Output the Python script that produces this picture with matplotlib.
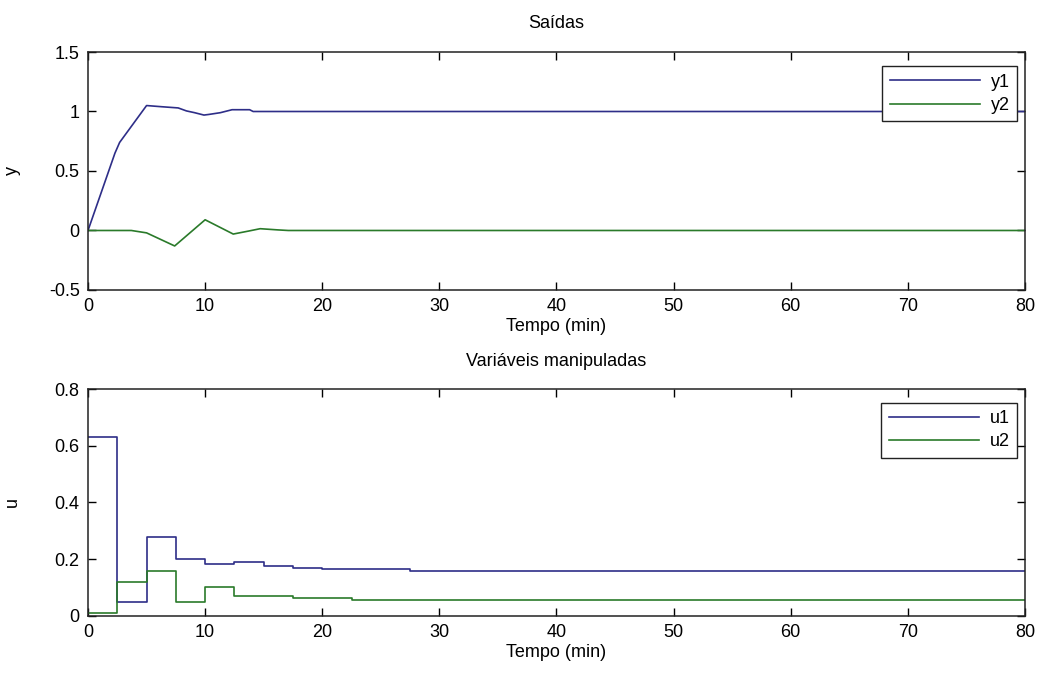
import numpy as np
import matplotlib.pyplot as plt

# saidas (amostras)
t_y1 = [0, 2.3, 2.7, 5.0, 6.3, 7.7, 8.4, 9.1, 9.9, 10.3, 11.3, 12.3, 13.8, 14.1, 80]
y1 = [0, 0.65, 0.74, 1.05, 1.04, 1.03, 1.005, 0.99, 0.97, 0.975, 0.99, 1.015, 1.015, 1.0, 1.0]

t_y2 = [0, 3.7, 5.0, 7.4, 10.0, 12.4, 13.7, 14.7, 16.2, 17.1, 80]
y2 = [0, 0, -0.02, -0.13, 0.09, -0.03, -0.005, 0.015, 0.005, 0, 0]

# variaveis manipuladas, periodo de amostragem 2.5 min
t_u = [0, 2.5, 5, 7.5, 10, 12.5, 15, 17.5, 20, 22.5, 25, 27.5, 80]
u1 = [0.63, 0.049, 0.277, 0.200, 0.184, 0.191, 0.177, 0.170, 0.164, 0.164, 0.164, 0.158, 0.158]
u2 = [0.011, 0.119, 0.158, 0.049, 0.102, 0.070, 0.070, 0.064, 0.064, 0.0555, 0.0555, 0.0555, 0.0555]

azul = '#2e2e88'
verde = '#2a7a2a'

plt.rcParams['font.family'] = ['Liberation Sans', 'DejaVu Sans']
plt.rcParams['font.size'] = 13

fig = plt.figure(figsize=(10.39, 6.78), dpi=100)

ax1 = fig.add_axes([0.0847, 0.5723, 0.9018, 0.351])
ax1.plot(t_y1, y1, color=azul, lw=1.2, label='y1')
ax1.plot(t_y2, y2, color=verde, lw=1.2, label='y2')
ax1.set_xlim(0, 80)
ax1.set_ylim(-0.5, 1.5)
ax1.set_xticks(range(0, 81, 10))
ax1.set_yticks([-0.5, 0, 0.5, 1, 1.5])
ax1.set_yticklabels(['-0.5', '0', '0.5', '1', '1.5'])
ax1.set_title('Saídas', fontsize=13, pad=17)
ax1.set_xlabel('Tempo (min)', labelpad=2)
ax1.set_ylabel('y')

ax2 = fig.add_axes([0.0847, 0.0919, 0.9018, 0.334])
ax2.step(t_u, u1, where='post', color=azul, lw=1.2, label='u1')
ax2.step(t_u, u2, where='post', color=verde, lw=1.2, label='u2')
ax2.set_xlim(0, 80)
ax2.set_ylim(0, 0.8)
ax2.set_xticks(range(0, 81, 10))
ax2.set_yticks([0, 0.2, 0.4, 0.6, 0.8])
ax2.set_yticklabels(['0', '0.2', '0.4', '0.6', '0.8'])
ax2.set_title('Variáveis manipuladas', fontsize=13, pad=17)
ax2.set_xlabel('Tempo (min)', labelpad=2)
ax2.set_ylabel('u')

for ax in (ax1, ax2):
    ax.yaxis.set_label_coords(-0.072, 0.5)
    ax.tick_params(direction='in', length=6, width=1, top=True, right=True,
                   labelsize=13, pad=6)
    for s in ax.spines.values():
        s.set_linewidth(1.1)
        s.set_color('#222222')
    leg = ax.legend(loc='upper right', bbox_to_anchor=(0.9915, 0.94), fancybox=False,
                    framealpha=1, edgecolor='#222222', handlelength=5.0,
                    borderpad=0.4, labelspacing=0.35, handletextpad=0.6, fontsize=13,
                    borderaxespad=0)
    leg.get_frame().set_linewidth(1.0)

fig.savefig('out.png', dpi=100, facecolor='white')
